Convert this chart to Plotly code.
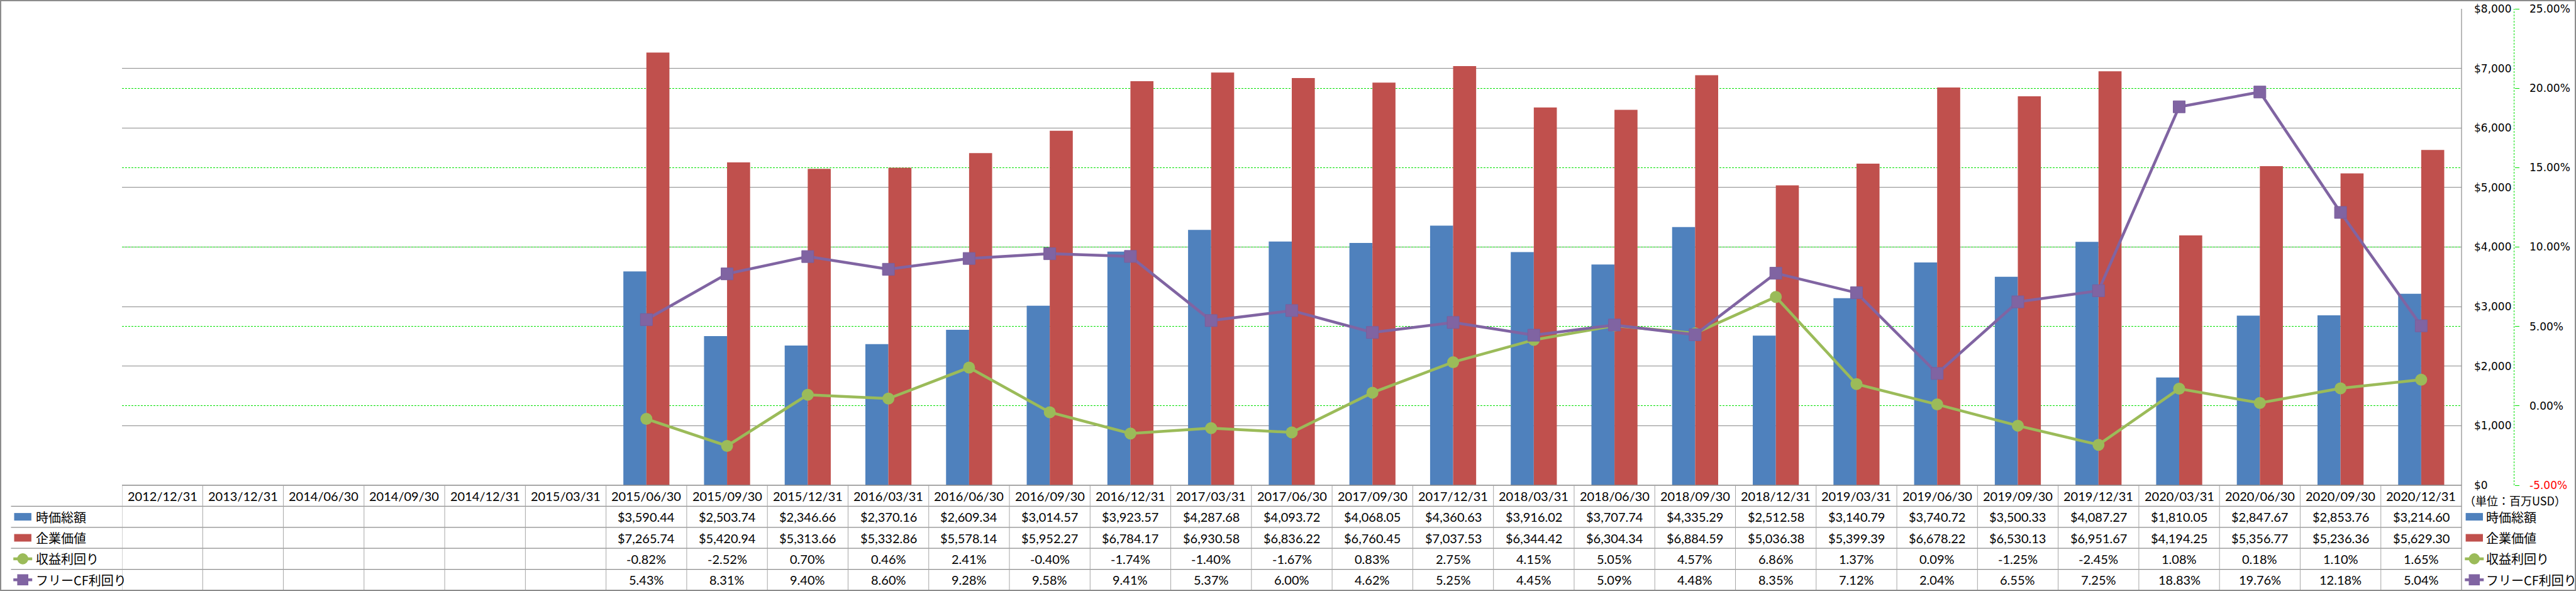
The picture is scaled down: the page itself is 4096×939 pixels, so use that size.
import plotly.graph_objects as go

# ---------------- data ----------------
categories = [
    "2012/12/31", "2013/12/31", "2014/06/30", "2014/09/30", "2014/12/31", "2015/03/31",
    "2015/06/30", "2015/09/30", "2015/12/31", "2016/03/31", "2016/06/30", "2016/09/30",
    "2016/12/31", "2017/03/31", "2017/06/30", "2017/09/30", "2017/12/31", "2018/03/31",
    "2018/06/30", "2018/09/30", "2018/12/31", "2019/03/31", "2019/06/30", "2019/09/30",
    "2019/12/31", "2020/03/31", "2020/06/30", "2020/09/30", "2020/12/31",
]
market_cap = [
    None, None, None, None, None, None,
    3590.44, 2503.74, 2346.66, 2370.16, 2609.34, 3014.57,
    3923.57, 4287.68, 4093.72, 4068.05, 4360.63, 3916.02,
    3707.74, 4335.29, 2512.58, 3140.79, 3740.72, 3500.33,
    4087.27, 1810.05, 2847.67, 2853.76, 3214.60,
]
enterprise_value = [
    None, None, None, None, None, None,
    7265.74, 5420.94, 5313.66, 5332.86, 5578.14, 5952.27,
    6784.17, 6930.58, 6836.22, 6760.45, 7037.53, 6344.42,
    6304.34, 6884.59, 5036.38, 5399.39, 6678.22, 6530.13,
    6951.67, 4194.25, 5356.77, 5236.36, 5629.30,
]
earnings_yield = [
    None, None, None, None, None, None,
    -0.82, -2.52, 0.70, 0.46, 2.41, -0.40,
    -1.74, -1.40, -1.67, 0.83, 2.75, 4.15,
    5.05, 4.57, 6.86, 1.37, 0.09, -1.25,
    -2.45, 1.08, 0.18, 1.10, 1.65,
]
fcf_yield = [
    None, None, None, None, None, None,
    5.43, 8.31, 9.40, 8.60, 9.28, 9.58,
    9.41, 5.37, 6.00, 4.62, 5.25, 4.45,
    5.09, 4.48, 8.35, 7.12, 2.04, 6.55,
    7.25, 18.83, 19.76, 12.18, 5.04,
]
series_names = ["時価総額", "企業価値", "収益利回り", "フリーCF利回り"]
unit_label = "（単位：百万USD）"
usd_ticks = [0, 1000, 2000, 3000, 4000, 5000, 6000, 7000, 8000]
pct_ticks = [-5, 0, 5, 10, 15, 20, 25]

# ---------------- style ----------------
BLUE, RED, GREEN, PURPLE = "#4F81BD", "#C0504D", "#9BBB59", "#8064A2"
LIME = "#00E000"
GRID = "#8a8a8a"
JP = "Noto Sans CJK JP"
NUM = "Lato"
AX = "DejaVu Sans"

W, H = 4096, 939
L, T, B = 194, 14, 168
PW = W - L
PH = H - T - B
BOTTOM = H - B  # plot bottom px
PLOT_RIGHT = 3914


def PX(px):
    return (px - L) / PW


def PY(py):
    return (BOTTOM - py) / PH


row_edges = [BOTTOM, 804.4, 837.8, 871.2, 904.6, 937.8]
row_centers = [(row_edges[i] + row_edges[i + 1]) / 2 for i in range(5)]

fig = go.Figure()
bar_w = 0.2855
fig.add_trace(go.Bar(x=categories, y=market_cap, name=series_names[0], marker=dict(color=BLUE, line=dict(width=0)),
                     width=bar_w, offset=-bar_w, yaxis="y", showlegend=False))
fig.add_trace(go.Bar(x=categories, y=enterprise_value, name=series_names[1], marker=dict(color=RED, line=dict(width=0)),
                     width=bar_w, offset=0, yaxis="y", showlegend=False))
fig.add_trace(go.Scatter(x=categories, y=earnings_yield, name=series_names[2], yaxis="y2", mode="lines+markers",
                         line=dict(color=GREEN, width=4.5), marker=dict(symbol="circle", size=19, color=GREEN),
                         showlegend=False))
fig.add_trace(go.Scatter(x=categories, y=fcf_yield, name=series_names[3], yaxis="y2", mode="lines+markers",
                         line=dict(color=PURPLE, width=4.5),
                         marker=dict(symbol="square", size=19, color=PURPLE, line=dict(color="#7a5e9c", width=1)),
                         showlegend=False))

pct_text = [(f'<span style="color:#ff0000">{v:.2f}%</span>' if v < 0 else f"{v:.2f}%") for v in pct_ticks]

fig.update_layout(
    width=W, height=H,
    margin=dict(l=L, r=0, t=T, b=B, autoexpand=False),
    paper_bgcolor="white", plot_bgcolor="white",
    barmode="overlay",
    xaxis=dict(type="category", domain=[0, PX(PLOT_RIGHT)], range=[-0.5, len(categories) - 0.5],
               showticklabels=False, showgrid=False, zeroline=False, showline=False, ticks=""),
    yaxis=dict(side="right", range=[0, 8000], tickvals=usd_ticks, ticktext=[f"${v:,}" for v in usd_ticks],
               showgrid=True, gridcolor=GRID, gridwidth=1, zeroline=False, showline=False, ticks="",
               ticklabelstandoff=19, tickfont=dict(family=AX, size=17, color="black"), automargin=False),
    yaxis2=dict(overlaying="y", side="right", anchor="free", position=PX(3997.6), range=[-5, 25],
                tickvals=pct_ticks, ticktext=pct_text, showgrid=True, gridcolor=LIME, gridwidth=1,
                griddash="3px,2px", zeroline=False, showline=False, ticks="outside", ticklen=7,
                tickcolor=LIME, tickwidth=1, ticklabelstandoff=13,
                tickfont=dict(family=AX, size=17, color="black"), automargin=False),
)

shapes = []
shapes.append(dict(type="line", xref="paper", yref="paper", x0=PX(3997.6), x1=PX(3997.6), y0=0, y1=1,
                   line=dict(color=LIME, width=1, dash="3px,2px")))
shapes.append(dict(type="line", xref="paper", yref="paper", x0=PX(PLOT_RIGHT), x1=PX(PLOT_RIGHT), y0=1,
                   y1=PY(row_edges[-1]), line=dict(color=GRID, width=1.2)))
shapes.append(dict(type="line", xref="paper", yref="paper", x0=0, x1=PX(PLOT_RIGHT), y0=0, y1=0,
                   line=dict(color=GRID, width=1.3)))
for e in row_edges[1:-1]:
    shapes.append(dict(type="line", xref="paper", yref="paper", x0=PX(17.5), x1=PX(PLOT_RIGHT), y0=PY(e), y1=PY(e),
                       line=dict(color=GRID, width=1.3)))
for i in range(len(categories)):
    shapes.append(dict(type="line", xref="x", yref="paper", x0=i - 0.5, x1=i - 0.5, y0=0, y1=PY(row_edges[-1]),
                       line=dict(color="#a6a6a6", width=1)))
shapes.append(dict(type="rect", xref="paper", yref="paper", x0=PX(1), x1=PX(W - 1), y0=PY(1), y1=PY(H - 1),
                   line=dict(color="#8c8c8c", width=2), fillcolor="rgba(0,0,0,0)"))


def legend_key(kind, cx, cy):
    if kind in ("bar_b", "bar_r"):
        col = BLUE if kind == "bar_b" else RED
        shapes.append(dict(type="rect", xref="paper", yref="paper", x0=PX(cx - 13.7), x1=PX(cx + 13.7),
                           y0=PY(cy + 6), y1=PY(cy - 6), line=dict(width=0), fillcolor=col))
    else:
        col = GREEN if kind == "green" else PURPLE
        shapes.append(dict(type="line", xref="paper", yref="paper", x0=PX(cx - 15), x1=PX(cx + 15),
                           y0=PY(cy), y1=PY(cy), line=dict(color=col, width=4.5)))
        r = 8.8
        shapes.append(dict(type="circle" if kind == "green" else "rect", xref="paper", yref="paper",
                           x0=PX(cx - r), x1=PX(cx + r), y0=PY(cy + r), y1=PY(cy - r),
                           line=dict(width=0), fillcolor=col))


kinds = ["bar_b", "bar_r", "green", "purple"]
for k, kind in enumerate(kinds):
    legend_key(kind, 36.2, row_centers[k + 1])
    legend_key(kind, 3934.3, row_centers[k + 1])

fig.update_layout(shapes=shapes)

ann = []
for c in categories:
    ann.append(dict(xref="x", yref="paper", x=c, y=PY(row_centers[0]), text=c, showarrow=False,
                    font=dict(family=NUM, size=20, color="black"), xanchor="center", yanchor="middle"))
rows = [
    [None if v is None else f"${v:,.2f}" for v in market_cap],
    [None if v is None else f"${v:,.2f}" for v in enterprise_value],
    [None if v is None else f"{v:.2f}%" for v in earnings_yield],
    [None if v is None else f"{v:.2f}%" for v in fcf_yield],
]
for r, vals in enumerate(rows):
    for c, t in zip(categories, vals):
        if t is None:
            continue
        ann.append(dict(xref="x", yref="paper", x=c, y=PY(row_centers[r + 1]), text=t, showarrow=False,
                        font=dict(family=NUM, size=20, color="black"), xanchor="center", yanchor="middle"))
for k, name in enumerate(series_names):
    for x0 in (54.5, 3951.0):
        ann.append(dict(xref="paper", yref="paper", x=PX(x0), y=PY(row_centers[k + 1]), text=name,
                        showarrow=False, font=dict(family=JP, size=20, color="black"),
                        xanchor="left", yanchor="middle"))
ann.append(dict(xref="paper", yref="paper", x=PX(3999), y=PY(795), text=unit_label, showarrow=False,
                font=dict(family=JP, size=18, color="black"), xanchor="center", yanchor="middle"))
fig.update_layout(annotations=ann)

fig.write_html("out.html",
               config={"displayModeBar": False},
               post_script="document.body.style.margin='0';document.body.style.overflow='hidden';")
